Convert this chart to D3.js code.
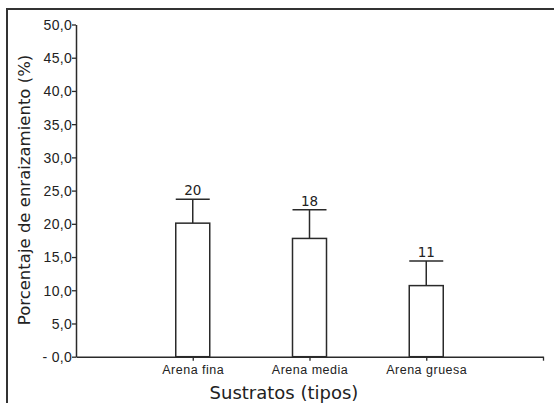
<!DOCTYPE html>
<html><head><meta charset="utf-8">
<script src="https://cdn.jsdelivr.net/npm/d3@7"></script>
<style>body{margin:0;background:#fff;overflow:hidden;} svg{display:block;font-family:"DejaVu Sans",sans-serif;}</style>
</head><body>
<script>
const categories = ["Arena fina","Arena media","Arena gruesa"];
const means = [20.1, 17.8, 10.7];
const upper = [23.7, 22.1, 14.4];
const valueLabels = ["20","18","11"];
const yTicks = [0,5,10,15,20,25,30,35,40,45,50];
const yTickLabels = ["- 0,0","5,0","10,0","15,0","20,0","25,0","30,0","35,0","40,0","45,0","50,0"];

const W=554,H=403;
const svg=d3.select("body").append("svg").attr("width",W).attr("height",H);
const ink="#2a2a2a";
svg.append("path").attr("d",`M7,${H+5}V9H${W+5}`).attr("fill","none").attr("stroke","#333").attr("stroke-width",2);

const x=d3.scaleLinear().domain([0,categories.length+1]).range([76,543]);
const y=d3.scaleLinear().domain([0,50]).range([356.7,24.5]);
const bw=34;

// y axis
const ya=svg.append("g").attr("transform","translate(76,0)")
 .call(d3.axisLeft(y).tickValues(yTicks).tickFormat((d,i)=>yTickLabels[i]).tickSize(4).tickSizeOuter(0));
ya.select(".domain").attr("stroke",ink).attr("stroke-width",1.5);
ya.selectAll(".tick line").attr("stroke",ink).attr("stroke-width",1.3);
ya.selectAll(".tick text").attr("font-size",14).attr("letter-spacing",0.3).attr("fill","#222").attr("x",-4).attr("dy","0.35em");

// x axis
const xa=svg.append("g").attr("transform",`translate(0,${y(0)})`)
 .call(d3.axisBottom(x).tickValues([1,2,3,4]).tickFormat(d=>categories[d-1]||"").tickSize(4).tickSizeOuter(0));
xa.select(".domain").attr("stroke",ink).attr("stroke-width",1.5);
xa.selectAll(".tick line").attr("stroke",ink).attr("stroke-width",1.3);
xa.selectAll(".tick text").attr("font-size",12.5).attr("letter-spacing",0.5).attr("fill","#222").attr("y",8);

// bars
const g=svg.append("g");
categories.forEach((c,i)=>{
  const cx=x(i+1);
  g.append("line").attr("x1",cx).attr("x2",cx).attr("y1",y(means[i])).attr("y2",y(upper[i])).attr("stroke",ink).attr("stroke-width",1.5);
  g.append("line").attr("x1",cx-bw/2).attr("x2",cx+bw/2).attr("y1",y(upper[i])).attr("y2",y(upper[i])).attr("stroke",ink).attr("stroke-width",1.5);
  g.append("rect").attr("x",cx-bw/2).attr("width",bw).attr("y",y(means[i])).attr("height",y(0)-y(means[i]))
   .attr("fill","#fff").attr("stroke",ink).attr("stroke-width",1.5);
  g.append("text").attr("x",cx).attr("y",y(upper[i])-4).attr("text-anchor","middle").attr("font-size",13.5).attr("fill","#222").text(valueLabels[i]);
});

svg.append("text").attr("transform","translate(30,190) rotate(-90)").attr("text-anchor","middle").attr("font-size",16.5).attr("fill","#222").text("Porcentaje de enraizamiento (%)");
svg.append("text").attr("x",284).attr("y",399).attr("text-anchor","middle").attr("font-size",18).attr("fill","#222").text("Sustratos (tipos)");
</script>
</body></html>
